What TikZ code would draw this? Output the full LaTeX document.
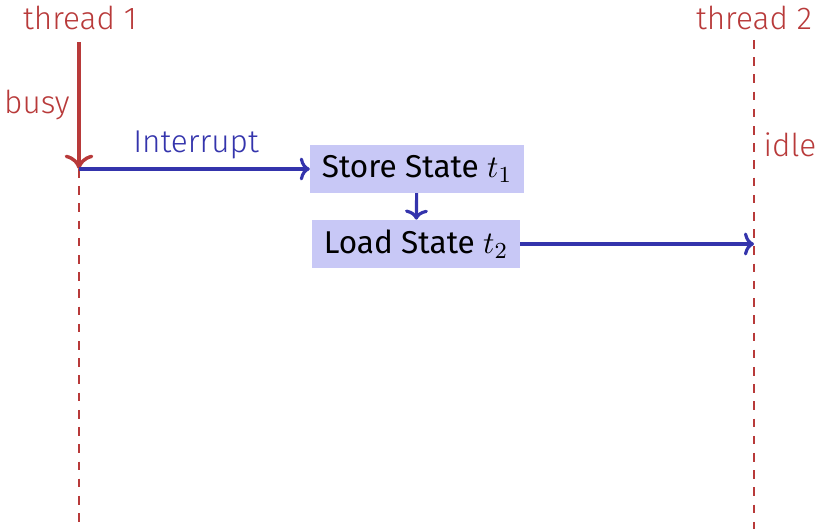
\documentclass[tikz,border=0pt]{standalone}
\usepackage{fontspec}
\setmainfont{Fira Sans}
\newfontfamily\thinfont{Fira Sans Light}
\usepackage{tikz}
\usetikzlibrary{calc,arrows.meta}
\definecolor{thrred}{RGB}{184,58,58}
\definecolor{sigblue}{RGB}{52,52,172}
\definecolor{boxfill}{RGB}{200,200,246}

\begin{document}
\begin{tikzpicture}[
		lbl/.style={text=thrred,font=\thinfont\fontsize{11}{13}\selectfont},
		thr/.style={draw=thrred,line width=0.7pt},
		busyline/.style={draw=thrred,line width=1.2pt,-{Computer Modern Rightarrow[length=5pt,width=10pt,line width=1.2pt]}},
		sig/.style={draw=sigblue,line width=1.1pt,-{Computer Modern Rightarrow[length=3.5pt,width=8pt,line width=1.1pt]}},
		box/.style={fill=boxfill,inner xsep=4pt,minimum height=0.58cm,font=\fontsize{11}{13}\selectfont}
	]
			\useasboundingbox (0,0) rectangle (10,6.483);
			\coordinate (T1) at (0.968,5.968);
			\coordinate (T1i) at (0.968,4.412);
			\coordinate (T1b) at (0.968,0);
			\coordinate (T2) at (9.240,5.993);
			\coordinate (T2b) at (9.240,0);
			\node[lbl] (N1) at (0.98,6.262) {thread 1};
			\node[lbl] (N2) at (9.24,6.262) {thread 2};
			\node[lbl] (busy) at (0.453,5.20) {busy};
			\node[lbl] (idle) at (9.681,4.706) {idle};
			\node[box] (S) at (5.110,4.412) {Store State $t_1$};
			\node[box] (L) at (5.098,3.493) {Load State $t_2$};
			\node[lbl,text=sigblue] (I) at (2.402,4.71) {Interrupt};
			\coordinate (T2l) at (T2b |- L);
			\draw[busyline] (T1) -- (T1i);
			\draw[thr,dashed] (T1i) -- (T1b);
			\draw[thr,dashed] (T2) -- (T2b);
			\draw[sig] (T1i) -- (S);
			\draw[sig] (S) -- (L);
			\draw[sig] (L) -- (T2l);
		\end{tikzpicture}
\end{document}
